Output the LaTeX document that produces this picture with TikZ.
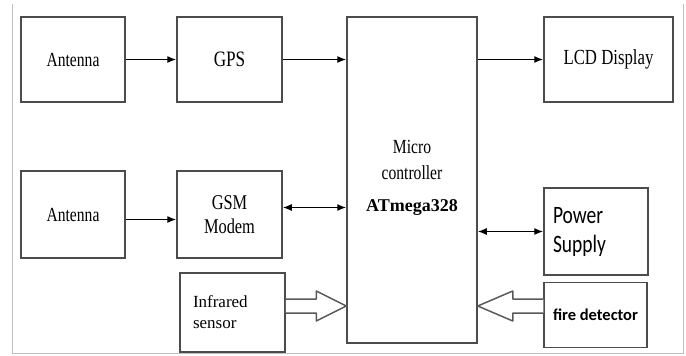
\documentclass[tikz,border=0pt]{standalone}
\usepackage{fontspec}
\setmainfont{Liberation Serif}
\newfontfamily\tallserif[FakeStretch=0.78]{Liberation Serif}
\newfontfamily\calfont{Carlito}
\newfontfamily\tallcal[FakeStretch=0.78]{Carlito}
\usetikzlibrary{calc,arrows.meta}

\tikzset{
  block/.style={draw=black!70, line width=1.5pt, align=center, inner sep=3pt, font=\tallserif\fontsize{20}{24}\selectfont},
  link/.style={line width=1.3pt, -{Latex[length=9pt,width=7pt]}},
  bilink/.style={line width=1.3pt, {Latex[length=9pt,width=7pt]}-{Latex[length=9pt,width=7pt]}},
  fatarrow/.style={draw=black!65, line width=1.5pt, fill=white, line join=round}
}

\begin{document}
\begin{tikzpicture}[x=1pt,y=-1pt]

\def \rowone {59.5}
\def \rowtwo {214.5}
\def \shaft {7}
\def \head {15}

\useasboundingbox (0,0) rectangle (686,356);
\draw [black!25, line width=1pt] (12,4) -- (12,353) -- (683,353) -- (683,4);

\node [block, minimum width=104pt, minimum height=85pt] (antgps) at (73,\rowone) {Antenna};
\node [block, minimum width=105pt, minimum height=85pt, font=\tallserif\fontsize{22}{24}\selectfont] (gps) at (229.5,\rowone) {GPS};
\node [block, minimum width=130pt, minimum height=326pt] (mcu) at (412,180) {};
\node [block, minimum width=129pt, minimum height=85pt, font=\tallserif\fontsize{21.5}{24}\selectfont] (lcd) at (608.5,\rowone) {LCD Display};

\node [block, minimum width=104pt, minimum height=87pt] (antgsm) at (73,\rowtwo) {Antenna};
\node [block, minimum width=105pt, minimum height=87pt, font=\tallserif\fontsize{21}{24}\selectfont] (gsm) at (229.5,\rowtwo) {GSM\\Modem};
\node [block, minimum width=105pt, minimum height=79pt, text width=79pt, align=left, font=\fontsize{17}{21}\selectfont] (infra) at (232.5,312.5) {Infrared\\sensor};

\node [block, minimum width=104pt, minimum height=87pt, text width=86pt, align=left, font=\tallcal\fontsize{25}{29}\selectfont] (power) at (596,231.5) {Power\\Supply};
\node [block, minimum width=103pt, minimum height=65pt, font=\calfont\bfseries\fontsize{16.5}{20}\selectfont] (fire) at (595.5,315) {fire detector};

\node [align=center, font=\tallserif\fontsize{20}{26}\selectfont] (mcname) at (412,160) {Micro\\controller};
\node [font=\fontsize{18}{20}\selectfont\bfseries] (mcchip) at (412,207) {ATmega328};

\draw [link] (antgps) -- (gps);
\draw [link] (gps.east) -- (gps.east -| mcu.west);
\draw [link] (mcu.east |- lcd.west) -- (lcd.west);
\draw [link] ([yshift=-5pt]antgsm.east) -- ([yshift=-5pt]gsm.west);
\draw [bilink] ([yshift=7pt]gsm.east) -- ([yshift=7pt]gsm.east -| mcu.west);
\draw [bilink] (mcu.east |- power.west) -- (power.west);

\coordinate (irtip) at (mcu.west |- 0,306);
\coordinate (firetip) at (mcu.east |- 0,306);

\draw [fatarrow] ($(infra.east |- irtip)+(0,-\shaft)$) -- ($(irtip)+(-30,-\shaft)$) -- ($(irtip)+(-30,-\head)$) -- (irtip) -- ($(irtip)+(-30,\head)$) -- ($(irtip)+(-30,\shaft)$) -- ($(infra.east |- irtip)+(0,\shaft)$);
\draw [fatarrow] ($(fire.west |- firetip)+(0,-\shaft)$) -- ($(firetip)+(35,-\shaft)$) -- ($(firetip)+(35,-\head)$) -- (firetip) -- ($(firetip)+(35,\head)$) -- ($(firetip)+(35,\shaft)$) -- ($(fire.west |- firetip)+(0,\shaft)$);

\end{tikzpicture}
\end{document}
